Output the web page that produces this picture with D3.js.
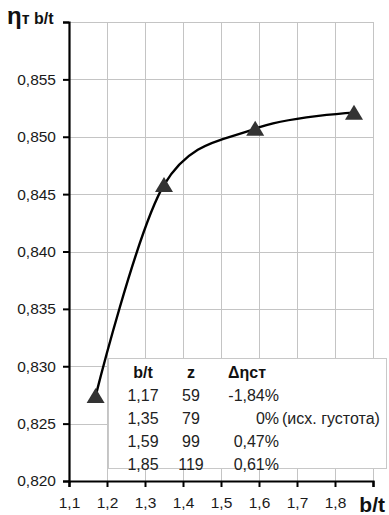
<!DOCTYPE html>
<html>
<head>
<meta charset="utf-8">
<script src="https://cdn.jsdelivr.net/npm/d3@7"></script>
<style>
  html, body { margin: 0; padding: 0; background: #fff; }
  svg { display: block; font-family: "Liberation Sans", Arial, sans-serif; }
</style>
</head>
<body>
<svg id="chart" width="389" height="515"></svg>
<script>
// Blade pitch ratio b/t vs. efficiency
const bt = [1.17, 1.35, 1.59, 1.85];
const eta = [0.8274, 0.8458, 0.8507, 0.8521];

// Table shown in the inset box
const tableHeaders = ["b/t", "z", "Δηст"];
const tableBt = ["1,17", "1,35", "1,59", "1,85"];
const tableZ = ["59", "79", "99", "119"];
const tableDelta = ["-1,84%", "0%", "0,47%", "0,61%"];
const tableNotes = ["", "(исх. густота)", "", ""];

// Axis ticks
const xTicks = [1.1, 1.2, 1.3, 1.4, 1.5, 1.6, 1.7, 1.8, 1.9];
const yTicks = [0.820, 0.825, 0.830, 0.835, 0.840, 0.845, 0.850, 0.855, 0.860];

const locale = d3.formatLocale({ decimal: ",", thousands: " ", grouping: [3], currency: ["", ""] });
const fmtX = locale.format(".1f");
const fmtY = locale.format(".3f");

const svg = d3.select("#chart");
const plot = { left: 69, right: 373, top: 22, bottom: 481 };

const x = d3.scaleLinear().domain([1.1, 1.9]).range([plot.left, plot.right]);
const y = d3.scaleLinear().domain([0.820, 0.860]).range([plot.bottom, plot.top]);

// Grid
const grid = svg.append("g").attr("stroke", "#c4c4c4").attr("stroke-width", 1);
grid.selectAll("line.v").data(xTicks.slice(1)).join("line")
  .attr("x1", d => Math.round(x(d)) + 0.5).attr("x2", d => Math.round(x(d)) + 0.5)
  .attr("y1", plot.top).attr("y2", plot.bottom);
grid.selectAll("line.h").data(yTicks.slice(1)).join("line")
  .attr("x1", plot.left).attr("x2", plot.right)
  .attr("y1", d => Math.round(y(d)) + 0.5).attr("y2", d => Math.round(y(d)) + 0.5);

// Axes
const xAxis = d3.axisBottom(x).tickValues(xTicks).tickSize(6).tickPadding(10)
  .tickFormat(d => d >= 1.85 ? "" : fmtX(d));
const yAxis = d3.axisLeft(y).tickValues(yTicks).tickSize(6).tickPadding(7)
  .tickFormat(d => d >= 0.8595 ? "" : fmtY(d));

const gx = svg.append("g").attr("transform", `translate(0,${plot.bottom})`).call(xAxis);
const gy = svg.append("g").attr("transform", `translate(${plot.left},0)`).call(yAxis);
[gx, gy].forEach(g => {
  g.select(".domain").attr("stroke", "#000").attr("stroke-width", 2.2);
  g.selectAll(".tick line").attr("stroke", "#000").attr("stroke-width", 2);
  g.selectAll(".tick text").attr("fill", "#1a1a1a").attr("font-size", 15.5)
    .attr("font-family", "'Liberation Sans', Arial, sans-serif");
});

// Axis titles
svg.append("text").attr("x", 385).attr("y", 512).attr("text-anchor", "end")
  .attr("font-size", 21).attr("font-weight", "bold").attr("fill", "#111").text("b/t");

const yt = svg.append("text").attr("x", 7).attr("y", 24).attr("font-weight", "bold").attr("fill", "#111");
yt.append("tspan").attr("font-size", 24).text("η");
yt.append("tspan").attr("font-size", 16).text("т b/t");

// Curve and markers
const pts = bt.map((b, i) => [x(b), y(eta[i])]);
const line = d3.line().curve(d3.curveCatmullRom.alpha(0));
svg.append("path").attr("d", line(pts)).attr("fill", "none")
  .attr("stroke", "#000").attr("stroke-width", 2.4);

const tri = "M0,-8 L9,7 L-9,7 Z";
svg.selectAll("path.mk").data(pts).join("path")
  .attr("class", "mk")
  .attr("d", tri)
  .attr("transform", d => `translate(${d[0]},${d[1]})`)
  .attr("fill", "#333");

// Inset table
const box = svg.append("g");
box.append("rect").attr("x", 108.5).attr("y", 358.5).attr("width", 278).attr("height", 110)
  .attr("fill", "#fff").attr("stroke", "#c8c8c8").attr("stroke-width", 1);

const colBt = 143, colZ = 191, colD = 279;
const rowY0 = 378, rowStep = 23;
const hdr = box.append("g").attr("font-size", 16).attr("font-weight", "bold").attr("fill", "#111");
hdr.append("text").attr("x", colBt).attr("y", rowY0).attr("text-anchor", "middle").text(tableHeaders[0]);
hdr.append("text").attr("x", colZ).attr("y", rowY0).attr("text-anchor", "middle").text(tableHeaders[1]);
hdr.append("text").attr("x", 247).attr("y", rowY0).attr("text-anchor", "middle").text(tableHeaders[2]);

const rows = box.append("g").attr("font-size", 16).attr("fill", "#222");
tableBt.forEach((v, i) => {
  const yy = rowY0 + rowStep * (i + 1);
  rows.append("text").attr("x", colBt).attr("y", yy).attr("text-anchor", "middle").text(v);
  rows.append("text").attr("x", colZ).attr("y", yy).attr("text-anchor", "middle").text(tableZ[i]);
  rows.append("text").attr("x", colD).attr("y", yy).attr("text-anchor", "end").text(tableDelta[i]);
  if (tableNotes[i]) rows.append("text").attr("x", colD + 3).attr("y", yy).text(tableNotes[i]);
});
</script>
</body>
</html>
